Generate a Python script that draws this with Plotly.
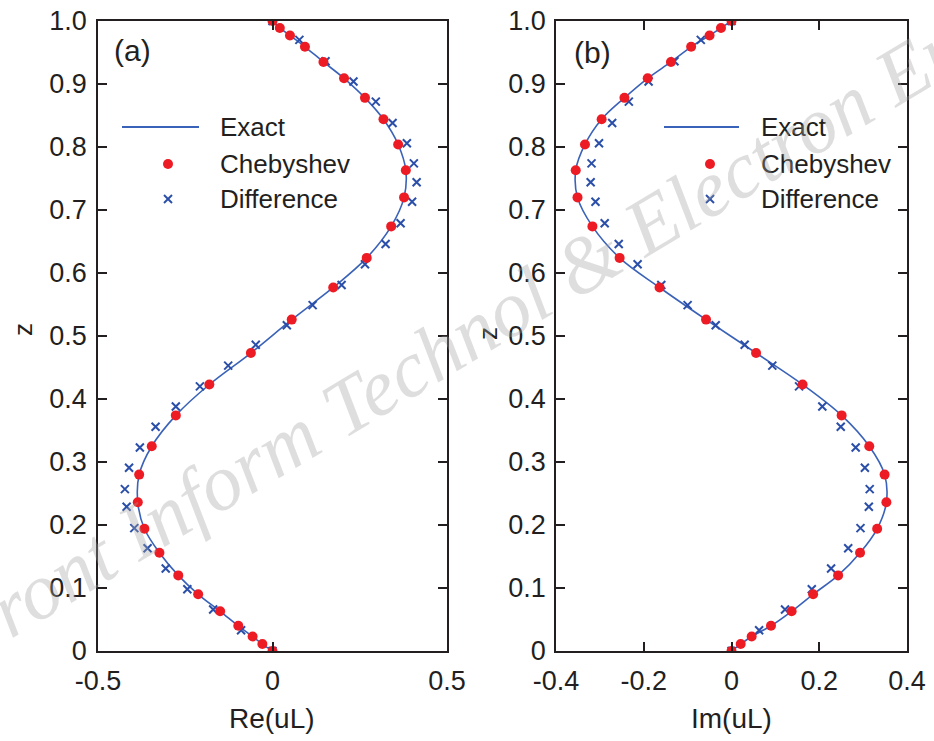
import plotly.graph_objects as go

# ---------------- data ----------------
cheb_z = [1.0, 0.989, 0.977, 0.959, 0.935, 0.909, 0.878, 0.844, 0.804, 0.763,
          0.720, 0.674, 0.624, 0.577, 0.526, 0.473, 0.423, 0.374, 0.325, 0.280,
          0.236, 0.194, 0.156, 0.120, 0.090, 0.063, 0.040, 0.023, 0.011, 0.0]
cheb_re = [0.0, 0.021, 0.050, 0.093, 0.146, 0.205, 0.265, 0.318, 0.360, 0.382,
           0.377, 0.340, 0.270, 0.174, 0.055, -0.062, -0.181, -0.277, -0.346, -0.382,
           -0.386, -0.367, -0.324, -0.270, -0.213, -0.150, -0.098, -0.057, -0.029, 0.0]
cheb_im = [0.0, -0.024, -0.050, -0.092, -0.138, -0.191, -0.244, -0.296, -0.334, -0.355,
           -0.351, -0.317, -0.255, -0.164, -0.058, 0.056, 0.162, 0.251, 0.314, 0.349,
           0.353, 0.332, 0.293, 0.243, 0.186, 0.137, 0.090, 0.046, 0.021, 0.0]

exact_z = list(cheb_z)
exact_re = list(cheb_re)
exact_im = list(cheb_im)

diff_z = [1.0, 0.970, 0.936, 0.904, 0.872, 0.838, 0.806, 0.774, 0.744, 0.713,
          0.679, 0.646, 0.614, 0.581, 0.549, 0.517, 0.486, 0.453, 0.420, 0.388,
          0.356, 0.323, 0.291, 0.257, 0.229, 0.195, 0.163, 0.131, 0.098, 0.066,
          0.033, 0.0]
diff_re = [0.0, 0.077, 0.152, 0.232, 0.296, 0.344, 0.385, 0.405, 0.413, 0.400,
           0.367, 0.324, 0.265, 0.198, 0.115, 0.041, -0.048, -0.127, -0.208, -0.277,
           -0.335, -0.380, -0.411, -0.423, -0.418, -0.396, -0.358, -0.306, -0.244, -0.170,
           -0.090, 0.0]
diff_im = [0.0, -0.070, -0.130, -0.189, -0.234, -0.272, -0.302, -0.319, -0.321, -0.310,
           -0.289, -0.257, -0.214, -0.160, -0.100, -0.036, 0.030, 0.093, 0.154, 0.207,
           0.249, 0.283, 0.304, 0.315, 0.313, 0.294, 0.266, 0.227, 0.183, 0.122,
           0.063, 0.0]

z_ticks = [0, 0.1, 0.2, 0.3, 0.4, 0.5, 0.6, 0.7, 0.8, 0.9, 1.0]
z_ticktext = ["0", "0.1", "0.2", "0.3", "0.4", "0.5", "0.6", "0.7", "0.8", "0.9", "1.0"]
re_ticks = [-0.5, 0, 0.5]
re_ticktext = ["-0.5", "0", "0.5"]
im_ticks = [-0.4, -0.2, 0, 0.2, 0.4]
im_ticktext = ["-0.4", "-0.2", "0", "0.2", "0.4"]
legend_names = ["Exact", "Chebyshev", "Difference"]

# ---------------- style ----------------
W, H = 934, 741
FONT = "Liberation Sans, Arial, sans-serif"
TXT = "#231f20"
LINE_BLUE = "#3a62b8"
X_BLUE = "#2b4fa8"
RED = "rgb(237,28,36)"
FS_TICK = 27
FS_LEG = 26
FS_TITLE = 28


def px(x):
    return x / W


def py(y):
    return 1 - y / H


fig = go.Figure()

panels = [
    ("x", "y", exact_re, cheb_re, diff_re),
    ("x2", "y2", exact_im, cheb_im, diff_im),
]
for xa, ya, ex, ch, df in panels:
    fig.add_trace(go.Scatter(x=ex, y=exact_z, mode="lines", xaxis=xa, yaxis=ya,
                             line=dict(color=LINE_BLUE, width=1.6, shape="spline", smoothing=1.0),
                             showlegend=False, name="Exact"))
    fig.add_trace(go.Scatter(x=df, y=diff_z, mode="markers", xaxis=xa, yaxis=ya,
                             marker=dict(symbol="x-thin", size=8, line=dict(color=X_BLUE, width=2)),
                             showlegend=False, name="Difference"))
    fig.add_trace(go.Scatter(x=ch, y=cheb_z, mode="markers", xaxis=xa, yaxis=ya,
                             marker=dict(symbol="circle", size=10, color=RED, line=dict(width=0)),
                             showlegend=False, name="Chebyshev"))

axis_common = dict(showline=True, linecolor=TXT, linewidth=1.5, mirror="ticks",
                   ticks="inside", ticklen=9, tickwidth=1.5, tickcolor=TXT,
                   showgrid=False, zeroline=False, automargin=False,
                   ticklabeloverflow="allow",
                   tickfont=dict(family=FONT, size=FS_TICK, color=TXT))

fig.update_layout(
    width=W, height=H, margin=dict(l=0, r=0, t=0, b=0, autoexpand=False),
    paper_bgcolor="white", plot_bgcolor="white", showlegend=False,
    xaxis=dict(axis_common, domain=[px(98), px(447)], range=[-0.5, 0.5],
               tickvals=re_ticks, ticktext=re_ticktext, anchor="y", ticklabelstandoff=5),
    yaxis=dict(axis_common, domain=[py(651), py(21)], range=[0, 1.0],
               tickvals=z_ticks, ticktext=z_ticktext, anchor="x", ticklabelstandoff=4),
    xaxis2=dict(axis_common, domain=[px(556), px(907)], range=[-0.4, 0.4],
                tickvals=im_ticks, ticktext=im_ticktext, anchor="y2", ticklabelstandoff=5),
    yaxis2=dict(axis_common, domain=[py(651), py(21)], range=[0, 1.0],
                tickvals=z_ticks, ticktext=z_ticktext, anchor="x2", ticklabelstandoff=3),
)

ann = []
shapes = []


def text(x, y, s, size=FS_LEG, xanchor="center", angle=0, color=TXT, family=FONT):
    ann.append(dict(x=px(x), y=py(y), xref="paper", yref="paper", text=s, showarrow=False,
                    xanchor=xanchor, yanchor="middle", textangle=angle,
                    font=dict(family=family, size=size, color=color)))


# axis titles and panel labels
text(272, 718, "Re(uL)", size=FS_TITLE)
text(731, 718, "Im(uL)", size=FS_TITLE)
text(23, 330, "z", angle=-90)
text(488, 333, "z", angle=-90)
text(132, 51, "(a)", size=30)
text(592, 52, "(b)", size=30)

# hand-placed legends
for lx0, lx1, mx, tx in [(122, 199, 168, 218), (664, 739, 710, 759)]:
    shapes.append(dict(type="line", xref="paper", yref="paper", x0=px(lx0), x1=px(lx1),
                       y0=py(127), y1=py(127), line=dict(color=LINE_BLUE, width=1.8)))
    r = 5
    shapes.append(dict(type="circle", xref="paper", yref="paper", x0=px(mx - r), x1=px(mx + r),
                       y0=py(164 + r), y1=py(164 - r), fillcolor=RED, line=dict(width=0)))
    d = 4
    shapes.append(dict(type="line", xref="paper", yref="paper", x0=px(mx - d), x1=px(mx + d),
                       y0=py(199 - d), y1=py(199 + d), line=dict(color=X_BLUE, width=2)))
    shapes.append(dict(type="line", xref="paper", yref="paper", x0=px(mx - d), x1=px(mx + d),
                       y0=py(199 + d), y1=py(199 - d), line=dict(color=X_BLUE, width=2)))
    for name, yy in zip(legend_names, [127, 164, 199]):
        text(tx, yy, name, xanchor="left")

# watermark
ann.append(dict(x=px(473), y=py(330), xref="paper", yref="paper",
                text="<i>Front Inform Technol & Electron Eng</i>", showarrow=False,
                xanchor="center", yanchor="middle", textangle=-31,
                font=dict(family="Liberation Serif, Times New Roman, serif", size=80,
                          color="rgba(160,160,160,0.35)")))

fig.update_layout(annotations=ann, shapes=shapes)
fig.write_html("out.html", config={"displayModeBar": False},
               post_script="document.body.style.margin='0px';")
